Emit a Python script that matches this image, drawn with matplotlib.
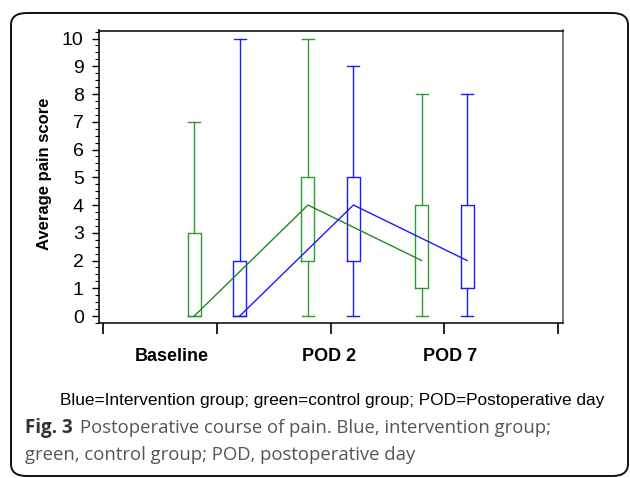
import matplotlib
matplotlib.use("Agg")
import matplotlib.pyplot as plt
from matplotlib.patches import FancyBboxPatch
from matplotlib.ticker import MultipleLocator

# data (min, q1, median, q3, max) per time point
timepoints = ["Baseline", "POD 2", "POD 7"]
green_min = [0, 0, 0]
green_q1 = [0, 2, 1]
green_med = [0, 4, 2]
green_q3 = [3, 5, 4]
green_max = [7, 10, 8]
blue_min = [0, 0, 0]
blue_q1 = [0, 2, 1]
blue_med = [0, 4, 2]
blue_q3 = [2, 5, 4]
blue_max = [10, 9, 8]
label_x = [0.6, 1.99, 3.05]

GREEN = "#2f9a2f"
BLUE = "#1a1aff"

plt.rcParams['font.family'] = ['Liberation Sans', 'DejaVu Sans']

fig = plt.figure(figsize=(6.3, 4.78), dpi=100)

# rounded frame around the figure
frame = FancyBboxPatch((11 / 630, 2 / 478), 617 / 630, 463 / 478,
                       boxstyle="round,pad=0,rounding_size=0.025",
                       transform=fig.transFigure, fill=False,
                       edgecolor="#111111", linewidth=1.4)
fig.patches.append(frame)

ax = fig.add_axes([99 / 630, 1 - 323.3 / 478, 463.5 / 630, 292.8 / 478])


def make_stats(lo, q1, med, q3, hi):
    stats = []
    for i in range(len(lo)):
        stats.append(dict(whislo=lo[i], q1=q1[i], med=med[i], q3=q3[i],
                          whishi=hi[i], fliers=[]))
    return stats


pos = [1, 2, 3]
for stats, col, off in [(make_stats(green_min, green_q1, green_med, green_q3, green_max), GREEN, -0.2),
                        (make_stats(blue_min, blue_q1, blue_med, blue_q3, blue_max), BLUE, 0.2)]:
    p = [x + off for x in pos]
    ax.bxp(stats, positions=p, widths=0.114, capwidths=0.105,
           boxprops=dict(color=col, linewidth=1.0),
           whiskerprops=dict(color=col, linewidth=1.0),
           capprops=dict(color=col, linewidth=1.0),
           medianprops=dict(visible=False),
           manage_ticks=False)

ax.plot([x - 0.2 for x in pos], green_med, color="#1f8a1f", linewidth=1.0)
ax.plot([x + 0.2 for x in pos], blue_med, color=BLUE, linewidth=1.0)

ax.set_xlim(-0.038, 4.039)
ax.set_ylim(-0.263, 10.29)
ax.set_xticks([0, 1, 2, 3, 4])
ax.set_xticklabels([])
ax.set_yticks(range(0, 11))
ax.yaxis.set_minor_locator(MultipleLocator(0.25))
ax.tick_params(axis='y', which='major', length=5, width=1, labelsize=14, pad=6)
ax.tick_params(axis='y', which='minor', length=3, width=0.8)
ax.tick_params(axis='x', which='major', length=8, width=1.2, direction='out')
for s in ax.spines.values():
    s.set_linewidth(1.1)
ax.spines['right'].set_color("#555555")

for x, lab in zip(label_x, timepoints):
    ax.text(x, -0.115, lab, transform=ax.get_xaxis_transform(),
            ha='center', va='center', fontsize=13, fontweight='bold')

fig.text(45 / 630, 1 - 174 / 478, "Average pain score", rotation=90,
         ha='center', va='center', fontsize=12, fontweight='bold')

fig.text(332 / 630, 1 - 400 / 478,
         "Blue=Intervention group; green=control group; POD=Postoperative day",
         ha='center', va='center', fontsize=12.4)

fig.text(25 / 630, 1 - 428 / 478, "Fig. 3", ha='left', va='center',
         fontsize=13.5, fontweight='bold', color="#333333", family='Open Sans')
fig.text(80 / 630, 1 - 428 / 478,
         "Postoperative course of pain. Blue, intervention group;",
         ha='left', va='center', fontsize=13.3, color="#555555", family='Open Sans')
fig.text(25 / 630, 1 - 455 / 478, "green, control group; POD, postoperative day",
         ha='left', va='center', fontsize=13.3, color="#555555", family='Open Sans')

fig.savefig("out.png", dpi=100)
